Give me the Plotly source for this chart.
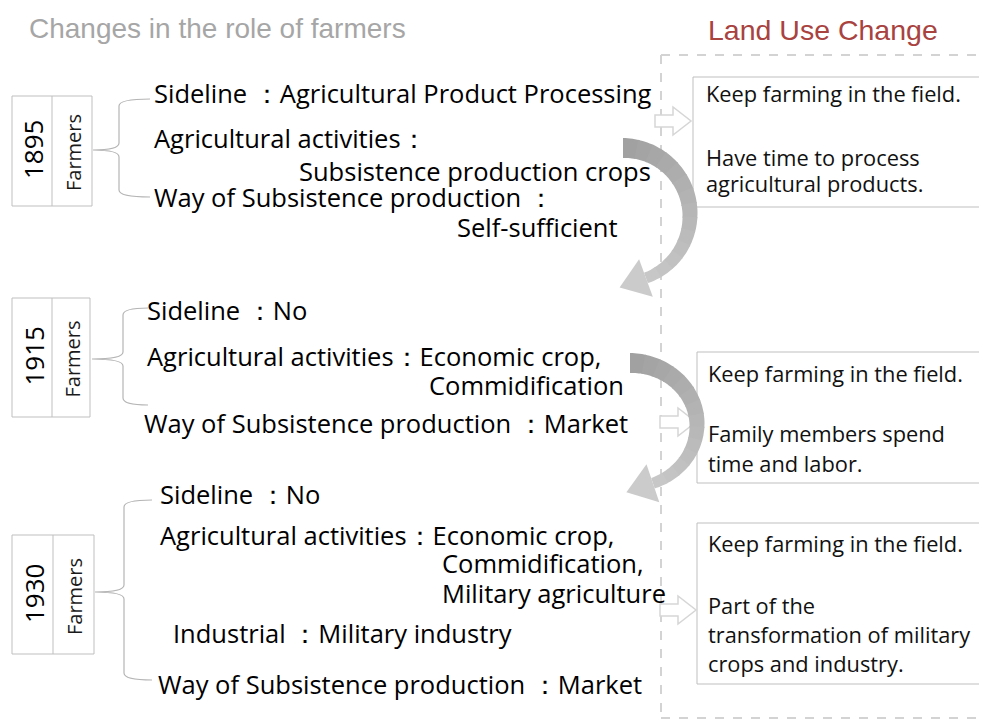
import numpy as np
import plotly.graph_objects as go

# ---------------- content ----------------
title_left = "Changes in the role of farmers"
title_right = "Land Use Change"
years = ["1895", "1915", "1930"]
role_label = "Farmers"

lines_1895 = ["Sideline ：Agricultural Product Processing",
              "Agricultural activities：",
              "Subsistence production crops",
              "Way of Subsistence production ：",
              "Self-sufficient"]
lines_1915 = ["Sideline ：No",
              "Agricultural activities：Economic crop,",
              "Commidification",
              "Way of Subsistence production ：Market"]
lines_1930 = ["Sideline ：No",
              "Agricultural activities：Economic crop,",
              "Commidification,",
              "Military agriculture",
              "Industrial ：Military industry",
              "Way of Subsistence production ：Market"]

land_1895 = ["Keep farming in the field.", "Have time to process", "agricultural products."]
land_1915 = ["Keep farming in the field.", "Family members spend", "time and labor."]
land_1930 = ["Keep farming in the field.", "Part of the",
             "transformation of military", "crops and industry."]

# ---------------- layout geometry (window pixels) ----------------
W, H = 987, 727
OFF = 8  # page body margin
TXT_FONT = "Open Sans"
fig = go.Figure()
shapes = []
annotations = []

def text(x, y, s, size, color="#000", anchor="left", angle=0, family=TXT_FONT):
    annotations.append(dict(x=x, y=y, text=s, showarrow=False, xanchor=anchor,
                            yanchor="middle", textangle=angle, borderpad=0,
                            font=dict(family=family, size=size, color=color)))

# titles
text(28, 28, title_left, 28, color="#a6a6a6", family="Liberation Sans")
text(823, 30, title_right, 28.5, color="#a8433f", anchor="center", family="Liberation Sans")

# dashed frame of land use panel
dash = dict(color="#d3d3d3", width=2, dash="dash")
shapes.append(dict(type="line", x0=661, y0=55, x1=990, y1=55, line=dash))
shapes.append(dict(type="line", x0=661, y0=55, x1=661, y1=718, line=dash))
shapes.append(dict(type="line", x0=661, y0=718, x1=990, y1=718, line=dash))

# year boxes
year_boxes = [(12, 52, 92, 96, 206), (12, 52, 90, 298, 417), (12, 53, 94, 535, 654)]
for yr, (x0, xm, x1, y0, y1) in zip(years, year_boxes):
    shapes.append(dict(type="rect", x0=x0, x1=x1, y0=y0, y1=y1,
                       line=dict(color="#bfbfbf", width=1)))
    shapes.append(dict(type="line", x0=xm, x1=xm, y0=y0, y1=y1,
                       line=dict(color="#bfbfbf", width=1)))
    text((x0 + xm) / 2 + 1, (y0 + y1) / 2 - 1, yr, 26, anchor="center", angle=-90)
    text((xm + x1) / 2 + 1, (y0 + y1) / 2 + 2, role_label, 20, color="#1a1a1a", anchor="center", angle=-90)

# braces
def brace(xtip, xv, xend, top, mid, bot, r=7):
    p = (f"M {xend},{top} Q {xv},{top} {xv},{top + r} L {xv},{mid - r} "
         f"Q {xv},{mid} {xtip},{mid} Q {xv},{mid} {xv},{mid + r} "
         f"L {xv},{bot - r} Q {xv},{bot} {xend},{bot}")
    shapes.append(dict(type="path", path=p, line=dict(color="#b5b5b5", width=1.2)))

brace(93, 119, 150, 99, 150, 197)
brace(92, 123, 148, 308, 359, 405)
brace(95, 124, 152, 500, 592, 680)

# left text lines
size_main = 25.5
pos_1895 = [(153, 93), (153, 138), (298, 171), (153, 197), (456, 227)]
pos_1915 = [(146, 310), (146, 356), (428, 385), (143, 423)]
pos_1930 = [(159, 494), (159, 535), (441, 563), (441, 593), (172, 633), (157, 684)]
for lines, pos in [(lines_1895, pos_1895), (lines_1915, pos_1915), (lines_1930, pos_1930)]:
    for s, (x, y) in zip(lines, pos):
        text(x, y, s, size_main)

# land use boxes
boxes = [(693, 981, 77, 207), (697, 981, 352, 483), (697, 981, 523, 684)]
for (x0, x1, y0, y1) in boxes:
    shapes.append(dict(type="rect", x0=x0, x1=x1, y0=y0, y1=y1,
                       line=dict(color="#bfbfbf", width=1), fillcolor="white"))
land_pos = [[93, 157, 183], [373, 433, 463], [543, 605, 634, 663]]
land_dx = [12, 10, 10]
for lines, ys, (x0, _, _, _), dx in zip([land_1895, land_1915, land_1930], land_pos, boxes, land_dx):
    for s, y in zip(lines, ys):
        text(x0 + dx, y, s, 21.8, color="#111")

# hollow right arrows
def hollow_arrow(x0, yc, length=36, shaft_h=12, head_h=28, shaft_len=18):
    pts = [(x0, yc - shaft_h / 2), (x0 + shaft_len, yc - shaft_h / 2),
           (x0 + shaft_len, yc - head_h / 2), (x0 + length, yc),
           (x0 + shaft_len, yc + head_h / 2), (x0 + shaft_len, yc + shaft_h / 2),
           (x0, yc + shaft_h / 2)]
    p = "M " + " L ".join(f"{x:.1f},{y:.1f}" for x, y in pts) + " Z"
    shapes.append(dict(type="path", path=p, line=dict(color="#d6d6d6", width=1.5),
                       fillcolor="white"))

hollow_arrow(655, 121)
hollow_arrow(660, 422)
hollow_arrow(660, 610)

# curved gray arrows (graded fill, drawn in segments)
def hexmix(c0, c1, t):
    a = np.array([int(c0[i:i + 2], 16) for i in (1, 3, 5)])
    b = np.array([int(c1[i:i + 2], 16) for i in (1, 3, 5)])
    c = np.round(a + (b - a) * t).astype(int)
    return "#%02x%02x%02x" % tuple(c)

def curved_arrow(cx, cy, rx, ry, th1, w0, w1, head_w, head_len, c0, c1, nseg=14):
    def edge(th, w):
        px, py = cx + rx * np.cos(th), cy + ry * np.sin(th)
        nx, ny = ry * np.cos(th), rx * np.sin(th)
        nn = np.hypot(nx, ny)
        nx, ny = nx / nn, ny / nn
        return px, py, nx, ny, px + nx * w / 2, py + ny * w / 2, px - nx * w / 2, py - ny * w / 2

    t0 = -np.pi / 2
    bounds = np.linspace(t0, th1, nseg + 1)
    for k in range(nseg):
        a, b = bounds[k], min(bounds[k + 1] + 0.02, th1)
        th = np.linspace(a, b, 8)
        w = w0 + (w1 - w0) * (th - t0) / (th1 - t0)
        _, _, _, _, ox, oy, ix, iy = edge(th, w)
        pts = list(zip(ox, oy)) + list(zip(ix[::-1], iy[::-1]))
        p = "M " + " L ".join(f"{x:.1f},{y:.1f}" for x, y in pts) + " Z"
        shapes.append(dict(type="path", path=p, line=dict(width=0),
                           fillcolor=hexmix(c0, c1, (k + 0.5) / (nseg + 1))))
    px, py, nx, ny, _, _, _, _ = edge(np.array([th1]), np.array([w1]))
    ex, ey, nx, ny = px[0], py[0], nx[0], ny[0]
    tx, ty = -rx * np.sin(th1), ry * np.cos(th1)
    tn = np.hypot(tx, ty)
    tx, ty = tx / tn, ty / tn
    pts = [(ex + nx * head_w / 2, ey + ny * head_w / 2),
           (ex + tx * head_len, ey + ty * head_len),
           (ex - nx * head_w / 2, ey - ny * head_w / 2)]
    p = "M " + " L ".join(f"{x:.1f},{y:.1f}" for x, y in pts) + " Z"
    shapes.append(dict(type="path", path=p, line=dict(width=0), fillcolor=c1))

curved_arrow(623, 215, 67, 67, np.radians(70), 20, 11, 40, 28, "#a0a0a0", "#cbcbcb")
curved_arrow(630, 425, 67, 62, np.radians(70), 20, 11, 40, 28, "#a0a0a0", "#cbcbcb")

fig.update_layout(
    width=W - OFF, height=H - OFF, margin=dict(l=0, r=0, t=0, b=0),
    paper_bgcolor="white", plot_bgcolor="white",
    xaxis=dict(range=[OFF, W], visible=False, fixedrange=True),
    yaxis=dict(range=[H, OFF], visible=False, fixedrange=True),
    shapes=shapes, annotations=annotations, showlegend=False,
)
fig.write_html("out.html")
